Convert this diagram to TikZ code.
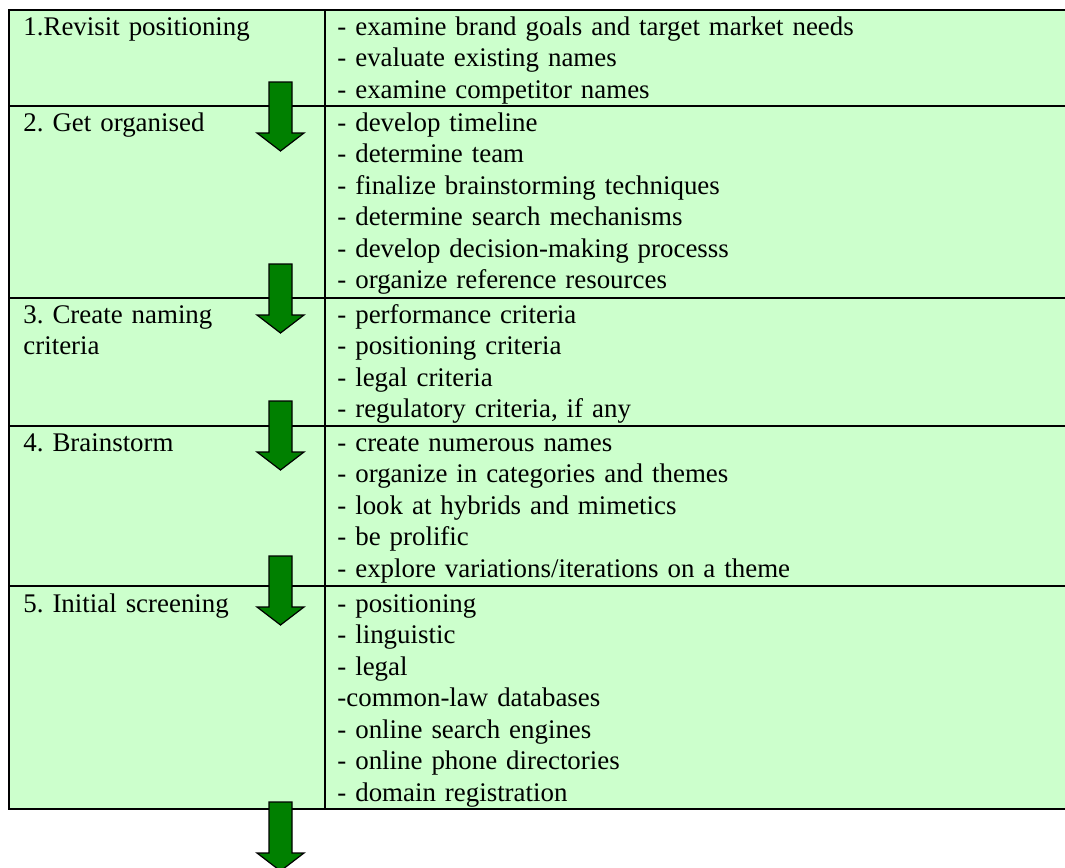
\documentclass[tikz,border=0pt]{standalone}
\usepackage{fontspec}
\setmainfont{Liberation Serif}
\definecolor{cellgreen}{HTML}{CCFFCC}
\definecolor{arrowgreen}{HTML}{008000}
\begin{document}
\frenchspacing
\begin{tikzpicture}[x=0.5pt,y=-0.5pt,
  cell/.style={anchor=base west, inner sep=0pt, align=left, text width=#1,
    font=\fontsize{13.45pt}{15.75pt}\selectfont\frenchspacing},
  rule/.style={line width=1pt, line cap=rect},
  flowarrow/.style={fill=arrowgreen, draw=black, line width=0.6pt, line join=miter}]
\useasboundingbox (0,0) rectangle (1065,867);
\clip (0,0) rectangle (1065,867);

% table background and grid
\fill[cellgreen] (9,10) rectangle (1066,809);
\foreach \yy in {10,106,298,426,586,809}
  \draw[rule] (9,\yy) -- (1066,\yy);
\draw[rule] (9,10) -- (9,809);
\draw[rule] (325,10) -- (325,809);

% step names
\node[cell=145pt] (s1) at (23,35)  {1.Revisit positioning};
\node[cell=145pt] (s2) at (23,131) {2. Get organised};
\node[cell=145pt] (s3) at (23,323) {3. Create naming\\criteria};
\node[cell=145pt] (s4) at (23,451) {4. Brainstorm};
\node[cell=145pt] (s5) at (23,612) {5. Initial screening};

% step activities
\node[cell=360pt] (a1) at (337,35) {- examine brand goals and target market needs\\
- evaluate existing names\\
- examine competitor names};
\node[cell=360pt] (a2) at (337,131) {- develop timeline\\
- determine team\\
- finalize brainstorming techniques\\
- determine search mechanisms\\
- develop decision-making processs\\
- organize reference resources};
\node[cell=360pt] (a3) at (337,323) {- performance criteria\\
- positioning criteria\\
- legal criteria\\
- regulatory criteria, if any};
\node[cell=360pt] (a4) at (337,451) {- create numerous names\\
- organize in categories and themes\\
- look at hybrids and mimetics\\
- be prolific\\
- explore variations/iterations on a theme};
\node[cell=360pt] (a5) at (337,612) {- positioning\\
- linguistic\\
- legal\\
-common-law databases\\
- online search engines\\
- online phone directories\\
- domain registration};

% block arrows between the steps
\foreach \t in {82,264,401,556,802}
  \draw[flowarrow] (269,\t) -- (292,\t) -- (292,\t+51) -- (304,\t+51)
    -- (280.5,\t+69) -- (257,\t+51) -- (269,\t+51) -- cycle;
\end{tikzpicture}
\end{document}
